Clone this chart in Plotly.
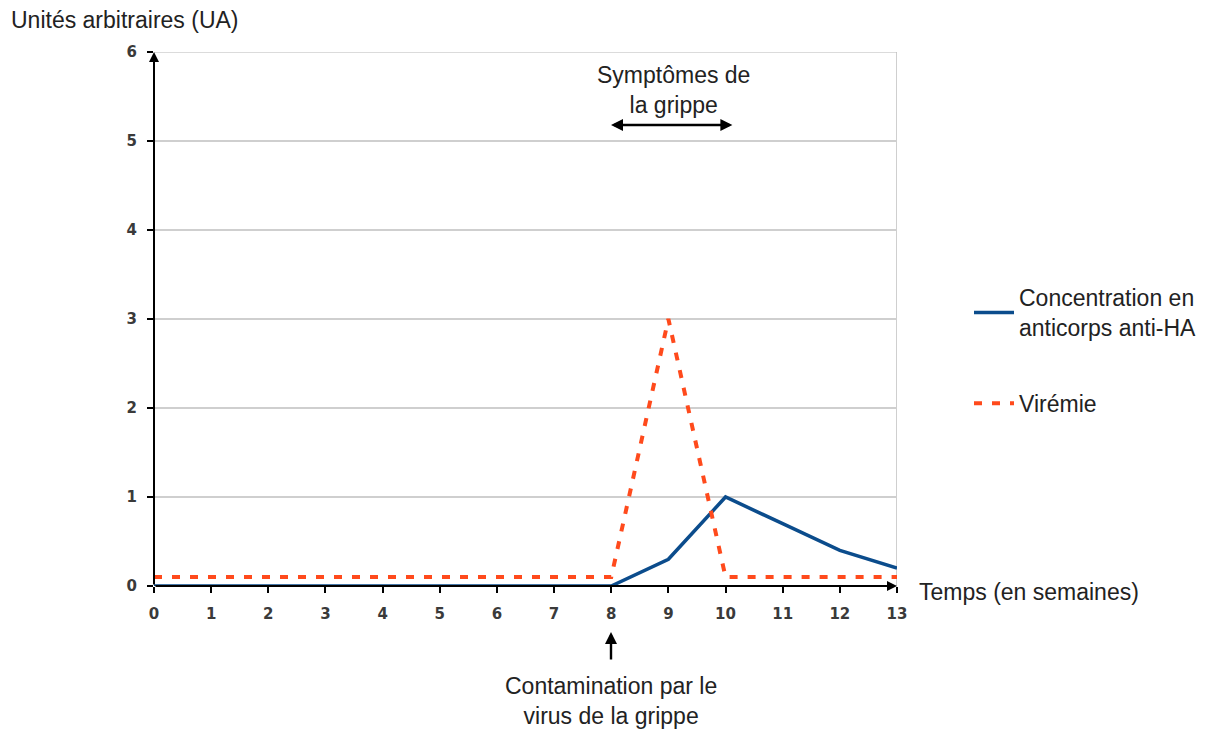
import plotly.graph_objects as go

weeks = list(range(0, 14))
anticorps = [0, 0, 0, 0, 0, 0, 0, 0, 0, 0.3, 1.0, 0.7, 0.4, 0.2]
viremie = [0.1, 0.1, 0.1, 0.1, 0.1, 0.1, 0.1, 0.1, 0.1, 3.0, 0.1, 0.1, 0.1, 0.1]
y_ticks = [0, 1, 2, 3, 4, 5, 6]
x_ticks = list(range(0, 14))

FONT = "Liberation Sans, Arial, sans-serif"
TXT = dict(family=FONT, size=23, color="#222222")

# screenshot pixel geometry of the plot area (page has 8px body offset)
PL, PR, PT, PB = 154, 897, 52, 586
OFF = 8
W, H = 1206, 729
ml, mt = PL - OFF, PT - OFF
mr = OFF + W - PR
mb = OFF + H - PB


def px(x):
    return (x - PL) / (PR - PL)


def py(y):
    return (PB - y) / (PB - PT)


fig = go.Figure()
fig.add_trace(go.Scatter(
    x=weeks, y=anticorps, mode="lines",
    name="Concentration en<br>anticorps anti-HA",
    line=dict(color="#0B4C8C", width=3.5),
    legendgroup="a",
))
fig.add_trace(go.Scatter(
    x=weeks, y=viremie, mode="lines",
    name="Virémie",
    line=dict(color="#FF4A1C", width=4, dash="8px,10px"),
    legendgroup="b",
))

fig.update_layout(
    width=W, height=H,
    margin=dict(l=ml, r=mr, t=mt, b=mb),
    paper_bgcolor="white", plot_bgcolor="white",
    font=TXT,
    showlegend=True,
    legend=dict(
        x=px(969), y=py(276), xanchor="left", yanchor="top",
        font=TXT,
        tracegroupgap=43,
        itemwidth=40,
        bgcolor="rgba(0,0,0,0)",
    ),
)
fig.update_xaxes(
    range=[0, 13], tickmode="array", tickvals=x_ticks, ticktext=[str(v) for v in x_ticks],
    showgrid=False, zeroline=False, showline=False,
    ticks="outside", ticklen=6, tickcolor="black", tickwidth=1.5,
    tickfont_size=15, tickfont_family="DejaVu Sans", tickfont_color="#3A3A3A",
    tickfont_weight="bold", ticklabelstandoff=8,
)
fig.update_yaxes(
    range=[0, 6], tickmode="array", tickvals=y_ticks, ticktext=[str(v) for v in y_ticks],
    showgrid=True, gridcolor="#CFCFCF", gridwidth=1.5,
    zeroline=False, showline=False,
    ticks="outside", ticklen=6, tickcolor="black", tickwidth=1.5,
    tickfont_size=15, tickfont_family="DejaVu Sans", tickfont_color="#3A3A3A",
    tickfont_weight="bold", ticklabelstandoff=7,
)

# top gridline and right border of plot area
fig.add_shape(type="line", xref="x", yref="y", x0=0, x1=13, y0=6, y1=6,
              line=dict(color="#CFCFCF", width=1.5), layer="below")
fig.add_shape(type="line", xref="x", yref="y", x0=13, x1=13, y0=0, y1=6,
              line=dict(color="#BFBFBF", width=1.5), layer="below")

# axes with arrows
fig.add_annotation(x=0, y=6, ax=0, ay=0, xref="x", yref="y", axref="x", ayref="y",
                   showarrow=True, arrowhead=2, arrowsize=1, arrowwidth=2,
                   arrowcolor="black", text="")
fig.add_annotation(x=13, y=0, ax=0, ay=0, xref="x", yref="y", axref="x", ayref="y",
                   showarrow=True, arrowhead=2, arrowsize=1, arrowwidth=2,
                   arrowcolor="black", text="")

# Symptoms double arrow
fig.add_annotation(x=10.12, y=5.18, ax=7.97, ay=5.18, xref="x", yref="y", axref="x", ayref="y",
                   showarrow=True, arrowhead=2, startarrowhead=2, arrowside="end+start",
                   arrowsize=1, arrowwidth=2.4, arrowcolor="black", text="")
fig.add_annotation(x=px(673), y=py(90), xref="paper", yref="paper", showarrow=False,
                   text="Symptômes de<br>la grippe", font=TXT, align="center",
                   xanchor="center", yanchor="middle")

# Contamination arrow
fig.add_annotation(x=px(611), y=py(632), xref="paper", yref="paper",
                   ax=0, ay=29, showarrow=True, arrowhead=2, arrowsize=1, arrowwidth=2.4,
                   arrowcolor="black", text="")
fig.add_annotation(x=px(611), y=py(701), xref="paper", yref="paper", showarrow=False,
                   text="Contamination par le<br>virus de la grippe",
                   font=TXT, align="center", xanchor="center", yanchor="middle")

# axis titles
fig.add_annotation(x=px(9), y=py(20), xref="paper", yref="paper", showarrow=False,
                   text="Unités arbitraires (UA)", font=TXT,
                   xanchor="left", yanchor="middle")
fig.add_annotation(x=px(917), y=py(592), xref="paper", yref="paper", showarrow=False,
                   text="Temps (en semaines)", font=TXT,
                   xanchor="left", yanchor="middle")

fig.write_html("out.html")
